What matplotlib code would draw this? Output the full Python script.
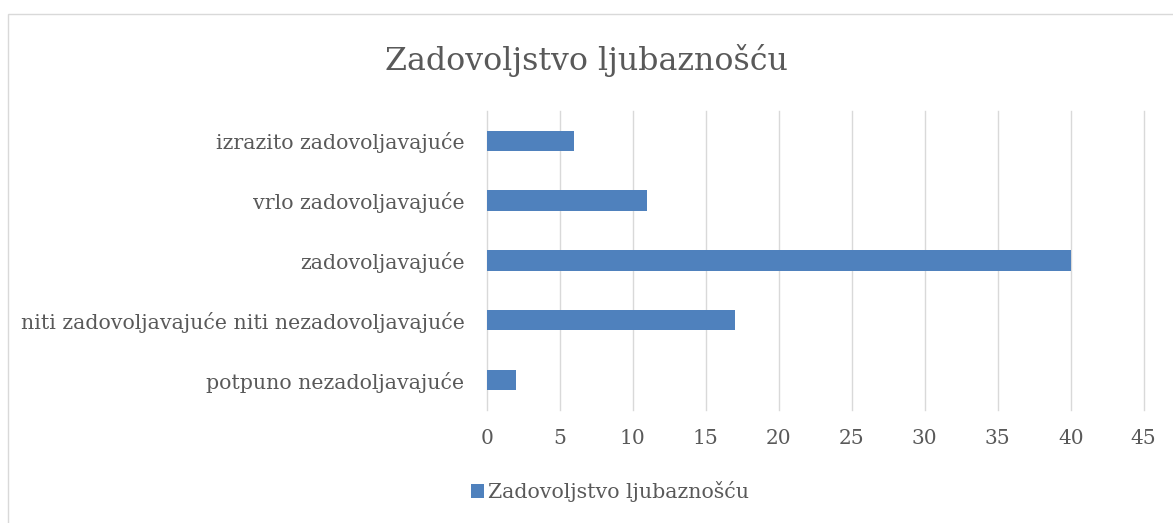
import matplotlib.pyplot as plt
from matplotlib.patches import Rectangle

categories = ["potpuno nezadoljavajuće",
              "niti zadovoljavajuće niti nezadovoljavajuće",
              "zadovoljavajuće",
              "vrlo zadovoljavajuće",
              "izrazito zadovoljavajuće"]
values = [2, 17, 40, 11, 6]
series_name = "Zadovoljstvo ljubaznošću"
xticks = [0, 5, 10, 15, 20, 25, 30, 35, 40, 45]

plt.rcParams['font.family'] = ['DejaVu Serif']
text_col = "#595959"

fig = plt.figure(figsize=(11.73, 5.23), dpi=100)
ax = fig.add_axes([0.415, 0.216, 0.56, 0.572])

ax.barh(range(len(categories)), values, height=0.34, color="#4F81BD",
        label=series_name, zorder=3)

ax.set_xlim(0, 45)
ax.set_ylim(-0.5, len(categories) - 0.5)
ax.set_xticks(xticks)
ax.set_yticks(range(len(categories)))
ax.set_yticklabels(categories)
ax.tick_params(axis='both', length=0, colors=text_col, labelsize=14.8)
ax.tick_params(axis='x', pad=14, labelsize=14.5)
ax.tick_params(axis='y', pad=16)
ax.grid(axis='x', color="#D9D9D9", linewidth=1, zorder=0)
for gl in ax.get_xgridlines():
    gl.set_clip_on(False)
for s in ax.spines.values():
    s.set_visible(False)

fig.suptitle(series_name, y=0.915, fontsize=22.8, color=text_col)

fig.legend(loc='lower center', bbox_to_anchor=(0.52, 0.005), frameon=False,
           fontsize=14.8, labelcolor=text_col, handlelength=0.65,
           handleheight=0.65, handletextpad=0.2)

fig.patches.append(Rectangle((8 / 1173, -0.01), 1.1, 1 - 14 / 523 + 0.01,
                             transform=fig.transFigure, fill=False,
                             edgecolor="#D9D9D9", linewidth=1))

fig.savefig("out.png", dpi=100)
